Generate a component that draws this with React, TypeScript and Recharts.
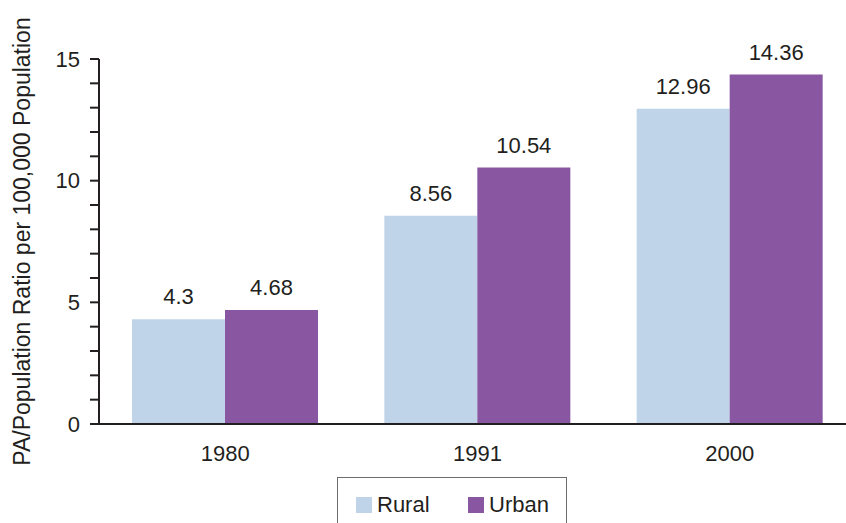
import { BarChart, Bar, XAxis, YAxis, LabelList } from "recharts";

const YEARS = ["1980", "1991", "2000"];
const RURAL = [4.3, 8.56, 12.96];
const URBAN = [4.68, 10.54, 14.36];
const Y_TICKS = [0, 1, 2, 3, 4, 5, 6, 7, 8, 9, 10, 11, 12, 13, 14, 15];

const SERIES = [
  { key: "rural", label: "Rural", color: "#bfd4e9" },
  { key: "urban", label: "Urban", color: "#8956a1" },
];

const INK = "#231f20";
const FONT = "'Liberation Sans', Arial, Helvetica, sans-serif";

const data = YEARS.map((year, i) => ({ year, rural: RURAL[i], urban: URBAN[i] }));

function ChartLegend() {
  return (
    <div
      style={{
        position: "absolute",
        left: 337,
        top: 477,
        width: 230,
        height: 60,
        border: "1px solid #6d6d6d",
        boxSizing: "border-box",
        fontFamily: FONT,
        fontSize: 22,
        color: INK,
      }}
    >
      {SERIES.map((s, i) => (
        <div
          key={s.key}
          style={{
            position: "absolute",
            left: i === 0 ? 18 : 130,
            top: 15,
            display: "flex",
            alignItems: "center",
            height: 24,
          }}
        >
          <span style={{ display: "inline-block", width: 16, height: 16, background: s.color, marginRight: 5 }} />
          <span>{s.label}</span>
        </div>
      ))}
    </div>
  );
}

export default function App() {
  return (
    <div
      style={{
        position: "absolute",
        left: 0,
        top: 0,
        width: 846,
        height: 523,
        overflow: "hidden",
        background: "#fff",
      }}
    >
      <BarChart
        width={900}
        height={523}
        data={data}
        margin={{ top: 59, right: 44, bottom: 59, left: 0 }}
        barCategoryGap={33}
        barGap={0}
      >
        <XAxis
          dataKey="year"
          height={40}
          tickLine={false}
          tickSize={0}
          tickMargin={21}
          axisLine={{ stroke: INK, strokeWidth: 2 }}
          tick={{ fill: INK, fontSize: 22, fontFamily: FONT }}
        />
        <YAxis
          width={99}
          domain={[0, 15]}
          ticks={Y_TICKS}
          interval={0}
          tickSize={9}
          tickMargin={10}
          tickFormatter={(v: number) => (v % 5 === 0 ? String(v) : "")}
          axisLine={{ stroke: INK, strokeWidth: 2 }}
          tickLine={{ stroke: INK, strokeWidth: 2 }}
          tick={{ fill: INK, fontSize: 22, fontFamily: FONT }}
          label={{
            value: "PA/Population Ratio per 100,000 Population",
            angle: -90,
            position: "insideLeft",
            offset: 22,
            style: { textAnchor: "middle", fill: INK, fontSize: 23, fontFamily: FONT },
          }}
        />
        {SERIES.map((s) => (
          <Bar key={s.key} dataKey={s.key} name={s.label} fill={s.color} isAnimationActive={false}>
            <LabelList
              dataKey={s.key}
              position="top"
              offset={15}
              style={{ fill: INK, fontSize: 22, fontFamily: FONT }}
            />
          </Bar>
        ))}
      </BarChart>
      <ChartLegend />
    </div>
  );
}
